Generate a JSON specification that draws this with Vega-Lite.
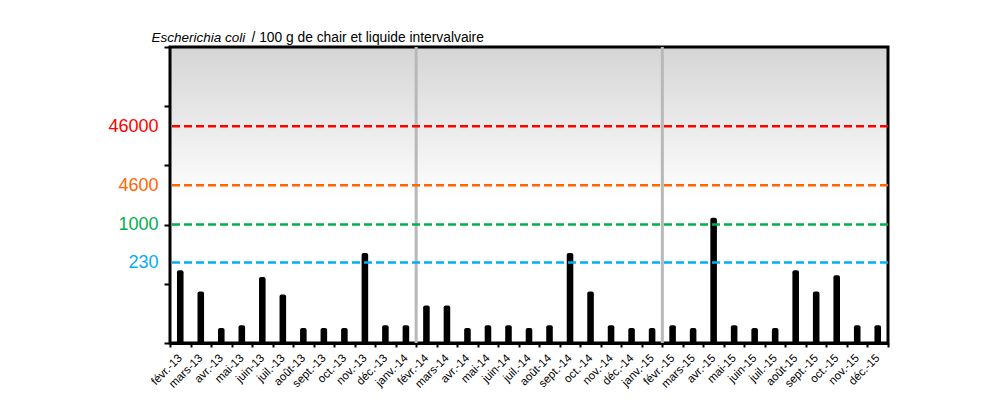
{
  "$schema": "https://vega.github.io/schema/vega-lite/v6.json",
  "width": 718,
  "height": 296,
  "autosize": "none",
  "padding": {"left": 170, "top": 47, "right": 103, "bottom": 62},
  "background": "white",
  "config": {"view": {"stroke": null}, "font": "Liberation Sans"},
  "layer": [
    {
      "data": {"values": [{}]},
      "mark": {
        "type": "rect",
        "stroke": "#000000",
        "strokeWidth": 3,
        "fill": {
          "gradient": "linear",
          "x1": 0, "y1": 0, "x2": 0, "y2": 1,
          "stops": [
            {"offset": 0, "color": "#d5d5d5"},
            {"offset": 0.52, "color": "#ffffff"},
            {"offset": 1, "color": "#ffffff"}
          ]
        }
      },
      "encoding": {}
    },
    {
      "data": {"values": [{"month": "févr.-14"}, {"month": "févr.-15"}]},
      "mark": {"type": "rule", "color": "#b8b8b8", "strokeWidth": 3},
      "encoding": {
        "x": {
          "field": "month", "type": "nominal", "bandPosition": 0,
          "scale": {
            "domain": ["févr.-13","mars-13","avr.-13","mai-13","juin-13","juil.-13","août-13","sept.-13","oct.-13","nov.-13","déc.-13","janv.-14","févr.-14","mars-14","avr.-14","mai-14","juin-14","juil.-14","août-14","sept.-14","oct.-14","nov.-14","déc.-14","janv.-15","févr.-15","mars-15","avr.-15","mai-15","juin-15","juil.-15","août-15","sept.-15","oct.-15","nov.-15","déc.-15"],
            "paddingInner": 0, "paddingOuter": 0
          }
        }
      }
    },
    {
      "data": {
        "values": [
          {"month": "févr.-13", "ecoli": 170},
          {"month": "mars-13", "ecoli": 74},
          {"month": "avr.-13", "ecoli": 18},
          {"month": "mai-13", "ecoli": 20},
          {"month": "juin-13", "ecoli": 130},
          {"month": "juil.-13", "ecoli": 66},
          {"month": "août-13", "ecoli": 18},
          {"month": "sept.-13", "ecoli": 18},
          {"month": "oct.-13", "ecoli": 18},
          {"month": "nov.-13", "ecoli": 330},
          {"month": "déc.-13", "ecoli": 20},
          {"month": "janv.-14", "ecoli": 20},
          {"month": "févr.-14", "ecoli": 43},
          {"month": "mars-14", "ecoli": 43},
          {"month": "avr.-14", "ecoli": 18},
          {"month": "mai-14", "ecoli": 20},
          {"month": "juin-14", "ecoli": 20},
          {"month": "juil.-14", "ecoli": 18},
          {"month": "août-14", "ecoli": 20},
          {"month": "sept.-14", "ecoli": 330},
          {"month": "oct.-14", "ecoli": 74},
          {"month": "nov.-14", "ecoli": 20},
          {"month": "déc.-14", "ecoli": 18},
          {"month": "janv.-15", "ecoli": 18},
          {"month": "févr.-15", "ecoli": 20},
          {"month": "mars-15", "ecoli": 18},
          {"month": "avr.-15", "ecoli": 1300},
          {"month": "mai-15", "ecoli": 20},
          {"month": "juin-15", "ecoli": 18},
          {"month": "juil.-15", "ecoli": 18},
          {"month": "août-15", "ecoli": 170},
          {"month": "sept.-15", "ecoli": 74},
          {"month": "oct.-15", "ecoli": 140},
          {"month": "nov.-15", "ecoli": 20},
          {"month": "déc.-15", "ecoli": 20}
        ]
      },
      "mark": {"type": "bar", "color": "#000000", "width": {"band": 0.32}, "cornerRadiusTopLeft": 2, "cornerRadiusTopRight": 2},
      "encoding": {
        "x": {
          "field": "month", "type": "nominal",
          "scale": {
            "domain": ["févr.-13","mars-13","avr.-13","mai-13","juin-13","juil.-13","août-13","sept.-13","oct.-13","nov.-13","déc.-13","janv.-14","févr.-14","mars-14","avr.-14","mai-14","juin-14","juil.-14","août-14","sept.-14","oct.-14","nov.-14","déc.-14","janv.-15","févr.-15","mars-15","avr.-15","mai-15","juin-15","juil.-15","août-15","sept.-15","oct.-15","nov.-15","déc.-15"],
            "paddingInner": 0, "paddingOuter": 0
          },
          "axis": {
            "title": "/ 100 g de chair et liquide intervalvaire",
            "titleX": 81, "titleY": -302, "titleAlign": "left", "titleAnchor": "start",
            "titleBaseline": "alphabetic", "titleFontSize": 13.8, "titleFontWeight": "normal",
            "titleColor": "#000000", "titleFont": "Liberation Sans",
            "labelAngle": -45, "labelAlign": "right", "labelBaseline": "middle",
            "labelFontSize": 11.5, "labelColor": "#000000", "labelPadding": 9,
            "labelOverlap": false, "labelFont": "Liberation Sans",
            "tickBand": "extent", "tickSize": 4, "tickWidth": 2, "tickColor": "#000000",
            "domainColor": "#000000", "domainWidth": 3
          }
        },
        "y": {
          "field": "ecoli", "type": "quantitative",
          "scale": {"type": "log", "domain": [10, 1000000], "nice": false},
          "axis": {
            "title": "Escherichia coli",
            "titleAngle": 0, "titleAlign": "left", "titleAnchor": "start", "titleBaseline": "alphabetic",
            "titleX": -19, "titleY": -6, "titleFontSize": 13.5, "titleFontStyle": "italic",
            "titleFontWeight": "normal", "titleColor": "#000000", "titleFont": "Liberation Sans",
            "values": [10, 100, 230, 1000, 4600, 10000, 46000, 100000, 1000000],
            "labelExpr": "datum.value == 230 || datum.value == 1000 || datum.value == 4600 || datum.value == 46000 ? format(datum.value, 'd') : ''",
            "labelColor": {
              "condition": [
                {"test": "datum.value == 46000", "value": "#ff0000"},
                {"test": "datum.value == 4600", "value": "#ff6600"},
                {"test": "datum.value == 1000", "value": "#00b050"}
              ],
              "value": "#00b0f0"
            },
            "tickOpacity": {
              "condition": {"test": "datum.value == 230 || datum.value == 4600 || datum.value == 46000", "value": 0},
              "value": 1
            },
            "labelFontSize": 18, "labelPadding": 6, "labelFont": "Liberation Sans",
            "labelFlush": false, "labelOverlap": false, "labelBound": false,
            "tickSize": 6, "tickWidth": 2, "tickColor": "#000000",
            "domainColor": "#000000", "domainWidth": 3, "grid": false
          }
        },
        "y2": {"datum": 10}
      }
    },
    {
      "data": {"values": [{}]},
      "mark": {"type": "rule", "color": "#ff0000", "strokeDash": [8, 4], "strokeWidth": 2.5},
      "encoding": {"y": {"datum": 46000, "type": "quantitative"}}
    },
    {
      "data": {"values": [{}]},
      "mark": {"type": "rule", "color": "#ff6600", "strokeDash": [8, 4], "strokeWidth": 2.5},
      "encoding": {"y": {"datum": 4600, "type": "quantitative"}}
    },
    {
      "data": {"values": [{}]},
      "mark": {"type": "rule", "color": "#00b050", "strokeDash": [8, 4], "strokeWidth": 2.5},
      "encoding": {"y": {"datum": 1000, "type": "quantitative"}}
    },
    {
      "data": {"values": [{}]},
      "mark": {"type": "rule", "color": "#00b0f0", "strokeDash": [8, 4], "strokeWidth": 2.5},
      "encoding": {"y": {"datum": 230, "type": "quantitative"}}
    }
  ]
}
